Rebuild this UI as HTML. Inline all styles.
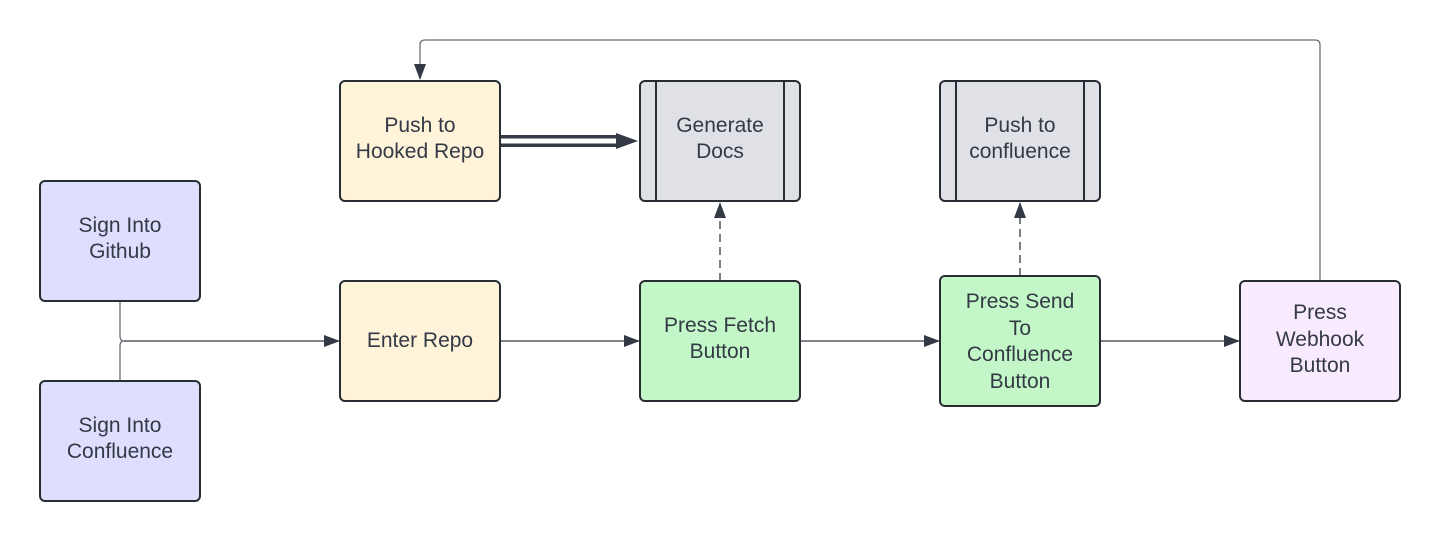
<!DOCTYPE html>
<html><head><meta charset="utf-8"><style>
html,body{margin:0;padding:0;background:#fff;}
svg{display:block;}
text{font-family:"Liberation Sans",sans-serif;font-size:21px;fill:#333a45;text-anchor:middle;}
</style></head><body>
<svg width="1440" height="541" viewBox="0 0 1440 541" xmlns="http://www.w3.org/2000/svg">
<defs>
<marker id="ah" markerWidth="16" markerHeight="12" refX="15" refY="6" orient="auto" markerUnits="userSpaceOnUse">
<path d="M0,0 L16,6 L0,12 Z" fill="#333a45"/>
</marker>
</defs>
<g fill="none" stroke="#333a45" stroke-width="1.3">
<path d="M1320,281 V45 Q1320,40 1315,40 H425 Q420,40 420,45 V79" stroke="#6b6f76" marker-end="url(#ah)"/>
<path d="M120,301 V336 Q120,341 124,341 M120,381 V346 Q120,341 124,341" stroke="#6b6f76"/>
<path d="M124,341 H339" marker-end="url(#ah)"/>
<path d="M500,341 H639" marker-end="url(#ah)"/>
<path d="M800,341 H939" marker-end="url(#ah)"/>
<path d="M1100,341 H1239" marker-end="url(#ah)"/>
<path d="M720,281 V203" stroke-dasharray="8,5" marker-end="url(#ah)"/>
<path d="M1020,276 V203" stroke-dasharray="8,5" marker-end="url(#ah)"/>
</g>
<rect x="500" y="135" width="120" height="3.5" fill="#333a45"/>
<rect x="500" y="143.5" width="120" height="3.5" fill="#333a45"/>
<path d="M616,133 L638,141 L616,149 Z" fill="#333a45"/>
<g stroke="#282c33" stroke-width="2">
<rect x="40" y="181" width="160" height="120" rx="5" fill="#dedeff"/>
<rect x="40" y="381" width="160" height="120" rx="5" fill="#dedeff"/>
<rect x="340" y="81" width="160" height="120" rx="5" fill="#fff3d9"/>
<rect x="340" y="281" width="160" height="120" rx="5" fill="#fff3d9"/>
<rect x="640" y="81" width="160" height="120" rx="5" fill="#dfe1e6"/>
<rect x="940" y="81" width="160" height="120" rx="5" fill="#dfe1e6"/>
<rect x="640" y="281" width="160" height="120" rx="5" fill="#c3f7c8"/>
<rect x="940" y="276" width="160" height="130" rx="5" fill="#c3f7c8"/>
<rect x="1240" y="281" width="160" height="120" rx="5" fill="#f9ebff"/>
<path d="M656,81 V201 M784,81 V201 M956,81 V201 M1084,81 V201" fill="none"/>
</g>
<text x="120" y="232">Sign Into</text><text x="120" y="258">Github</text>
<text x="120" y="432">Sign Into</text><text x="120" y="458">Confluence</text>
<text x="420" y="132">Push to</text><text x="420" y="158">Hooked Repo</text>
<text x="420" y="347">Enter Repo</text>
<text x="720" y="132">Generate</text><text x="720" y="158">Docs</text>
<text x="1020" y="132">Push to</text><text x="1020" y="158">confluence</text>
<text x="720" y="332">Press Fetch</text><text x="720" y="358">Button</text>
<text x="1020" y="308">Press Send</text><text x="1020" y="335">To</text><text x="1020" y="361">Confluence</text><text x="1020" y="388">Button</text>
<text x="1320" y="319">Press</text><text x="1320" y="346">Webhook</text><text x="1320" y="372">Button</text>
</svg>
</body></html>
